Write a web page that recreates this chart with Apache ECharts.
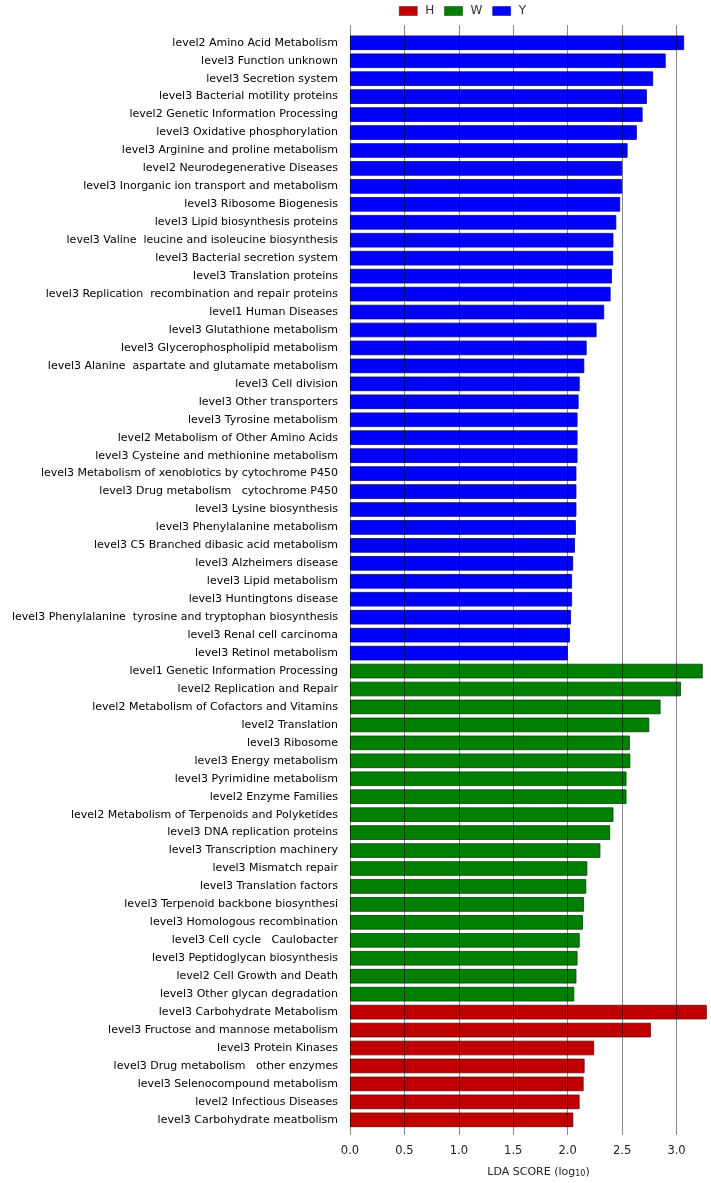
<!DOCTYPE html>
<html>
<head>
<meta charset="utf-8">
<script src="https://cdn.jsdelivr.net/npm/echarts@6/dist/echarts.min.js"></script>
<style>html,body{margin:0;padding:0;background:#fff}#c{width:711px;height:1183px}</style>
</head>
<body>
<div id="c"></div>
<script>
const yCategories = [
  "level2 Amino Acid Metabolism","level3 Function unknown","level3 Secretion system","level3 Bacterial motility proteins",
  "level2 Genetic Information Processing","level3 Oxidative phosphorylation","level3 Arginine and proline metabolism",
  "level2 Neurodegenerative Diseases","level3 Inorganic ion transport and metabolism","level3 Ribosome Biogenesis",
  "level3 Lipid biosynthesis proteins","level3 Valine  leucine and isoleucine biosynthesis","level3 Bacterial secretion system",
  "level3 Translation proteins","level3 Replication  recombination and repair proteins","level1 Human Diseases",
  "level3 Glutathione metabolism","level3 Glycerophospholipid metabolism","level3 Alanine  aspartate and glutamate metabolism",
  "level3 Cell division","level3 Other transporters","level3 Tyrosine metabolism","level2 Metabolism of Other Amino Acids",
  "level3 Cysteine and methionine metabolism","level3 Metabolism of xenobiotics by cytochrome P450",
  "level3 Drug metabolism   cytochrome P450","level3 Lysine biosynthesis","level3 Phenylalanine metabolism",
  "level3 C5 Branched dibasic acid metabolism","level3 Alzheimers disease","level3 Lipid metabolism",
  "level3 Huntingtons disease","level3 Phenylalanine  tyrosine and tryptophan biosynthesis","level3 Renal cell carcinoma",
  "level3 Retinol metabolism"
];
const yValues = [3.07,2.90,2.785,2.727,2.688,2.635,2.55,2.50,2.50,2.482,2.446,2.42,2.418,2.406,2.394,2.335,2.265,2.174,2.152,
  2.11,2.10,2.09,2.09,2.09,2.08,2.08,2.08,2.075,2.066,2.05,2.04,2.04,2.03,2.02,2.00];

const wCategories = [
  "level1 Genetic Information Processing","level2 Replication and Repair","level2 Metabolism of Cofactors and Vitamins",
  "level2 Translation","level3 Ribosome","level3 Energy metabolism","level3 Pyrimidine metabolism","level2 Enzyme Families",
  "level2 Metabolism of Terpenoids and Polyketides","level3 DNA replication proteins","level3 Transcription machinery",
  "level3 Mismatch repair","level3 Translation factors","level3 Terpenoid backbone biosynthesi","level3 Homologous recombination",
  "level3 Cell cycle   Caulobacter","level3 Peptidoglycan biosynthesis","level2 Cell Growth and Death","level3 Other glycan degradation"
];
const wValues = [3.24,3.04,2.853,2.749,2.571,2.575,2.54,2.54,2.42,2.39,2.30,2.18,2.17,2.15,2.14,2.11,2.09,2.08,2.06];

const hCategories = [
  "level3 Carbohydrate Metabolism","level3 Fructose and mannose metabolism","level3 Protein Kinases",
  "level3 Drug metabolism   other enzymes","level3 Selenocompound metabolism","level2 Infectious Diseases",
  "level3 Carbohydrate meatbolism"
];
const hValues = [3.278,2.764,2.243,2.155,2.146,2.109,2.051];

const xTicks = [0, 0.5, 1.0, 1.5, 2.0, 2.5, 3.0];

const categories = yCategories.concat(wCategories, hCategories);
const nY = yCategories.length, nW = wCategories.length, nH = hCategories.length;
function place(values, offset) {
  const arr = new Array(categories.length).fill('-');
  values.forEach((v, i) => { arr[offset + i] = v; });
  return arr;
}
const xMax = 3.28;

const chart = echarts.init(document.getElementById('c'), null, {renderer: 'canvas'});
const font = 'DejaVu Sans, Verdana, sans-serif';
const barBase = {type: 'bar', xAxisIndex: 0, yAxisIndex: 0, barWidth: 14.5, barGap: '-100%'};
chart.setOption({
  animation: false,
  backgroundColor: '#fff',
  textStyle: {fontFamily: font},
  legend: {
    left: 399, top: 5, padding: 0, itemWidth: 18, itemHeight: 9, itemGap: 10, icon: 'rect',
    data: ['H', 'W', 'Y'],
    itemStyle: {borderWidth: 0.5},
    textStyle: {fontSize: 12, color: '#333', fontFamily: font, padding: [0, 0, 0, 3]}
  },
  grid: [
    {left: 350, right: 4, top: 33.8, bottom: 54.2},
    {left: 350, right: 4, top: 25, bottom: 48}
  ],
  xAxis: [
    {gridIndex: 0, type: 'value', min: 0, max: xMax, show: false},
    {
      gridIndex: 1, type: 'value', min: 0, max: xMax, interval: 0.5, z: 10,
      axisLine: {show: false}, axisTick: {show: false},
      splitLine: {show: true, showMaxLine: false, lineStyle: {color: 'rgba(0,0,0,0.47)', width: 1}},
      axisLabel: {
        show: true, showMaxLabel: false, margin: 10, fontSize: 11.5, color: '#222', fontFamily: font,
        formatter: v => xTicks.indexOf(v) >= 0 ? v.toFixed(1) : ''
      },
      name: 'LDA SCORE (log{s|10})', nameLocation: 'middle', nameGap: 32,
      nameTextStyle: {fontSize: 11, color: '#222', fontFamily: font, padding: [0, 0, 0, 20],
        rich: {s: {fontSize: 8, color: '#222', fontFamily: font, verticalAlign: 'bottom', padding: [3, 0, 0, 0]}}}
    }
  ],
  yAxis: [
    {
      gridIndex: 0, type: 'category', data: categories, inverse: true,
      axisLine: {show: false}, axisTick: {show: false}, splitLine: {show: false},
      axisLabel: {interval: 0, fontSize: 11, color: '#000', margin: 12, fontFamily: font}
    },
    {gridIndex: 1, type: 'value', show: false, min: 0, max: 1}
  ],
  series: [
    Object.assign({}, barBase, {name: 'H', data: place(hValues, nY + nW),
      itemStyle: {color: '#C00000', borderColor: '#6a0000', borderWidth: 0.8}}),
    Object.assign({}, barBase, {name: 'W', data: place(wValues, nY),
      itemStyle: {color: '#007F00', borderColor: '#004000', borderWidth: 0.8}}),
    Object.assign({}, barBase, {name: 'Y', data: place(yValues, 0),
      itemStyle: {color: '#0000FF', borderColor: '#000080', borderWidth: 0.8}})
  ]
});
</script>
</body>
</html>
